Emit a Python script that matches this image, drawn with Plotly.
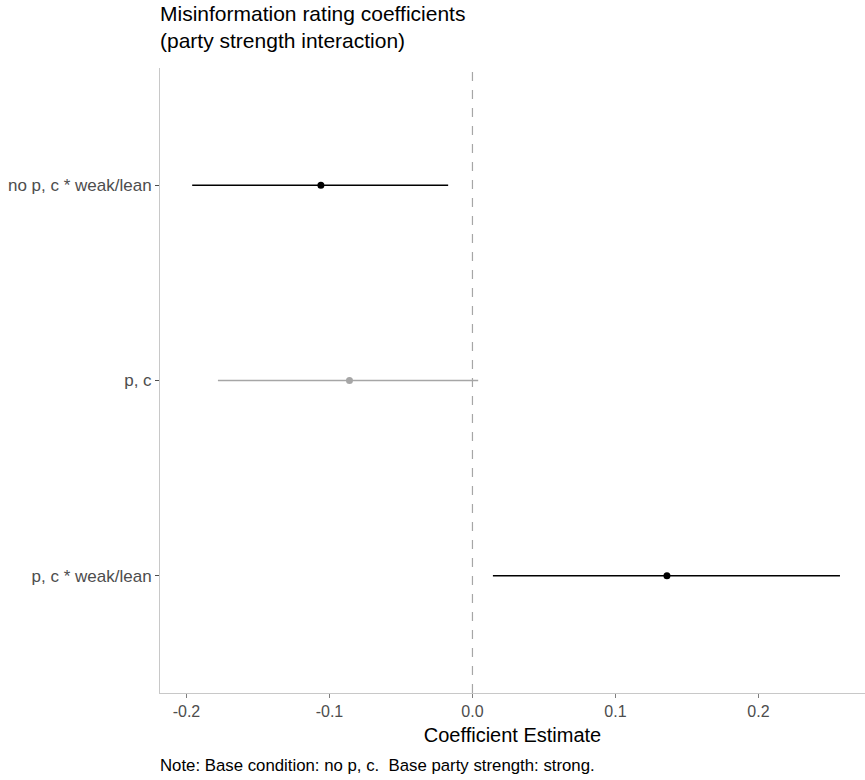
import plotly.graph_objects as go

terms = ["no p, c * weak/lean", "p, c", "p, c * weak/lean"]
estimates = [-0.106, -0.086, 0.136]
ci_low = [-0.196, -0.178, 0.0143]
ci_high = [-0.017, 0.004, 0.257]
colors = ["black", "#A6A6A6", "black"]

fig = go.Figure()
for t, e, lo, hi, c in zip(terms, estimates, ci_low, ci_high, colors):
    fig.add_trace(go.Scatter(
        x=[e], y=[t], mode="markers",
        marker=dict(color=c, size=7),
        error_x=dict(type="data", symmetric=False, array=[hi - e], arrayminus=[e - lo],
                     color=c, thickness=1.6, width=0),
        showlegend=False))

fig.add_shape(type="line", xref="x", yref="paper", x0=0, x1=0, y0=0, y1=1,
              line=dict(color="#A6A6A6", width=1.2, dash="dash"), layer="below")

fig.update_layout(
    width=865, height=780,
    margin=dict(l=160, r=0, t=68, b=87),
    paper_bgcolor="white", plot_bgcolor="white",
    font=dict(family="Liberation Sans, Arial, sans-serif"),
    xaxis=dict(range=[-0.2185, 0.2745], tickvals=[-0.2, -0.1, 0.0, 0.1, 0.2],
               ticktext=["-0.2", "-0.1", "0.0", "0.1", "0.2"],
               showgrid=False, zeroline=False, showline=True, linecolor="#C8C8C8", linewidth=1,
               ticks="outside", ticklen=4, tickcolor="#7F7F7F",
               tickfont=dict(size=16, color="#4D4D4D"),
               title=dict(text="Coefficient Estimate", font=dict(size=20, color="black"), standoff=8)),
    yaxis=dict(type="category", categoryorder="array", categoryarray=terms[::-1],
               range=[-0.6, 2.6], showgrid=False, zeroline=False, showline=True,
               linecolor="#C8C8C8", linewidth=1,
               ticks="outside", ticklen=4, tickcolor="#4D4D4D",
               tickfont=dict(size=17, color="#4D4D4D")),
)

fig.add_annotation(text="Misinformation rating coefficients<br>(party strength interaction)",
                   xref="paper", yref="paper", x=0, y=1 + 68/625, xanchor="left", yanchor="top",
                   xshift=-2, align="left", showarrow=False, font=dict(size=21, color="black"))

fig.add_annotation(text="Note: Base condition: no p, c.  Base party strength: strong.",
                   xref="paper", yref="paper", x=0, y=-72/625, xanchor="left", yanchor="middle",
                   xshift=-2, showarrow=False, font=dict(size=16.8, color="black"))

fig.write_html("out.html")
